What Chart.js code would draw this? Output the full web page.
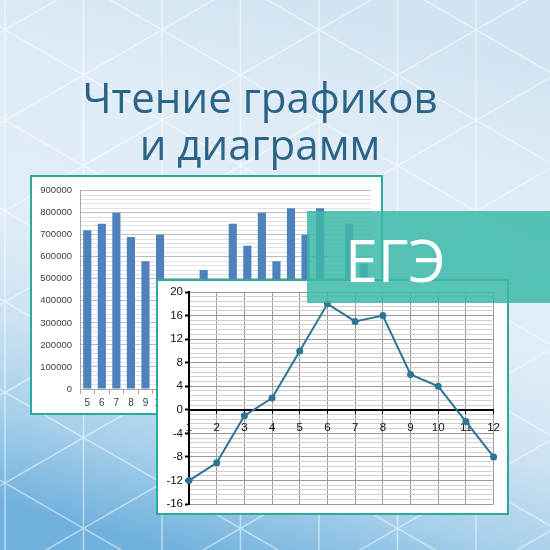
<!DOCTYPE html>
<html>
<head>
<meta charset="utf-8">
<script src="https://cdn.jsdelivr.net/npm/chart.js@4"></script>
<style>
  body { margin: 0; }
  #page { position: relative; width: 550px; height: 550px; overflow: hidden; font-family: "Open Sans", sans-serif; }
  #bg { position: absolute; left: 0; top: 0; }
  .title { position: absolute; left: 0; width: 520px; text-align: center; color: #2b6487; font-size: 42px; line-height: 47px; white-space: nowrap; }
  .box { position: absolute; background: #fff; border: 2px solid #2aab9c; box-sizing: border-box; }
  .box canvas { display: block; }
  #banner { position: absolute; left: 307px; top: 211px; width: 243px; height: 92px; background: rgba(60, 184, 168, 0.85); }
  #banner span { position: absolute; left: 38px; top: 8px; color: #fff; font-size: 59px; line-height: 80px; }
</style>
</head>
<body>
<div id="page">
  <canvas id="bg" width="550" height="550"></canvas>
  <div class="title" style="top:73px">Чтение графиков</div>
  <div class="title" style="top:120px">и диаграмм</div>

  <div class="box" id="barBox" style="left:30px;top:175px;width:353px;height:240px">
    <canvas id="barChart" width="349" height="236"></canvas>
  </div>
  <div class="box" id="lineBox" style="left:156px;top:279px;width:353px;height:236px">
    <canvas id="lineChart" width="349" height="232"></canvas>
  </div>
  <div id="banner"><span>ЕГЭ</span></div>
</div>

<script>
// bar chart data
const barLabels = ["5", "6", "7", "8", "9", "10", "11", "12", "13", "14", "15", "16", "17", "18", "19", "20", "21", "22", "23", "24"];
const barValues = [720000, 750000, 800000, 690000, 580000, 700000, 470000, 420000, 540000, 460000, 750000, 650000, 800000, 580000, 820000, 700000, 820000, 500000, 750000, 570000];

// line chart data
const lineLabels = ["1", "2", "3", "4", "5", "6", "7", "8", "9", "10", "11", "12"];
const lineValues = [-12, -9, -1, 2, 10, 18, 15, 16, 6, 4, -2, -8];

// background: gradient + triangle lattice
function drawBackground() {
  const c = document.getElementById("bg");
  const ctx = c.getContext("2d");
  const g = ctx.createLinearGradient(330, 0, 180, 550);
  g.addColorStop(0, "#d1e4f1");
  g.addColorStop(0.22, "#dfecf6");
  g.addColorStop(0.5, "#e2eef7");
  g.addColorStop(0.68, "#cde3f2");
  g.addColorStop(0.85, "#a6cfeb");
  g.addColorStop(1, "#71b2dd");
  ctx.fillStyle = g;
  ctx.fillRect(0, 0, 550, 550);

  ctx.strokeStyle = "rgba(255,255,255,0.5)";
  ctx.lineWidth = 1.5;
  const step = 78.5;
  const side = step / Math.cos(Math.PI / 6);
  const k = Math.tan(Math.PI / 6);
  ctx.beginPath();
  for (let x = 5; x < 560; x += step) {
    ctx.moveTo(x, 0);
    ctx.lineTo(x, 550);
  }
  for (let i = -12; i < 12; i++) {
    const ca = 480.1 + side * i;
    ctx.moveTo(0, ca);
    ctx.lineTo(550, ca + 550 * k);
    const cb = 485.9 + side * i;
    ctx.moveTo(0, cb);
    ctx.lineTo(550, cb - 550 * k);
  }
  ctx.stroke();
}

function isMultiple(v, m) {
  return Math.abs(v / m - Math.round(v / m)) < 1e-6;
}

function drawBarChart() {
  const ctx = document.getElementById("barChart").getContext("2d");
  return new Chart(ctx, {
    type: "bar",
    data: {
      labels: barLabels,
      datasets: [
        {
          data: barValues,
          backgroundColor: "#4f81bd",
          categoryPercentage: 1,
          barPercentage: 0.56,
        },
      ],
    },
    options: {
      responsive: false,
      animation: false,
      layout: { padding: { top: 11, right: 10, left: 0, bottom: 0 } },
      plugins: { legend: { display: false }, tooltip: { enabled: false } },
      scales: {
        x: {
          afterFit: (scale) => { scale.height = 24; },
          border: { color: "#a6a6a6" },
          grid: { offset: true, drawOnChartArea: false, tickLength: 5, color: "#a6a6a6" },
          ticks: { color: "#404040", font: { size: 10, family: "Arial, 'Liberation Sans'" }, padding: 3, maxRotation: 0, autoSkip: false },
        },
        y: {
          min: 0,
          max: 900000,
          afterFit: (scale) => { scale.width = 48; },
          border: { color: "#a6a6a6" },
          grid: {
            drawTicks: false,
            color: (c) => (isMultiple(c.tick.value, 100000) ? "#bdbdbd" : "#e2e2e2"),
          },
          ticks: {
            stepSize: 20000,
            autoSkip: false,
            padding: 8,
            color: "#404040",
            font: { size: 9.5, family: "Arial, 'Liberation Sans'" },
            callback: (v) => (isMultiple(v, 100000) ? String(v) : ""),
          },
        },
      },
    },
  });
}

function drawLineChart() {
  const ctx = document.getElementById("lineChart").getContext("2d");
  return new Chart(ctx, {
    type: "line",
    data: {
      labels: lineLabels,
      datasets: [
        {
          data: lineValues,
          borderColor: "#2d7595",
          backgroundColor: "#2d7595",
          borderWidth: 2,
          pointRadius: 3.5,
          pointBorderWidth: 0,
          tension: 0,
        },
      ],
    },
    options: {
      responsive: false,
      animation: false,
      layout: { padding: { top: 11, right: 12, left: 0, bottom: 8 } },
      plugins: { legend: { display: false }, tooltip: { enabled: false } },
      scales: {
        x: {
          position: { y: 0 },
          offset: false,
          border: { color: "#000", width: 2 },
          grid: { color: "#9a9a9a", tickColor: "#000", tickLength: 4 },
          ticks: { color: "#111", font: { size: 11.5, family: "Arial, 'Liberation Sans'" }, padding: 7, maxRotation: 0, autoSkip: false },
        },
        y: {
          min: -16,
          max: 20,
          afterFit: (scale) => { scale.width = 31; },
          border: { color: "#000", width: 2 },
          grid: {
            tickLength: 4,
            color: (c) => (isMultiple(c.tick.value, 4) ? "#9a9a9a" : "#d0d0d0"),
            tickColor: (c) => (isMultiple(c.tick.value, 4) ? "#000" : "rgba(0,0,0,0)"),
            tickWidth: 2,
          },
          ticks: {
            stepSize: 0.8,
            autoSkip: false,
            padding: 2,
            color: "#111",
            font: { size: 11.5, family: "Arial, 'Liberation Sans'" },
            callback: (v) => (isMultiple(v, 4) ? String(Math.round(v)) : ""),
          },
        },
      },
    },
  });
}

drawBackground();
drawBarChart();
drawLineChart();
</script>
</body>
</html>
